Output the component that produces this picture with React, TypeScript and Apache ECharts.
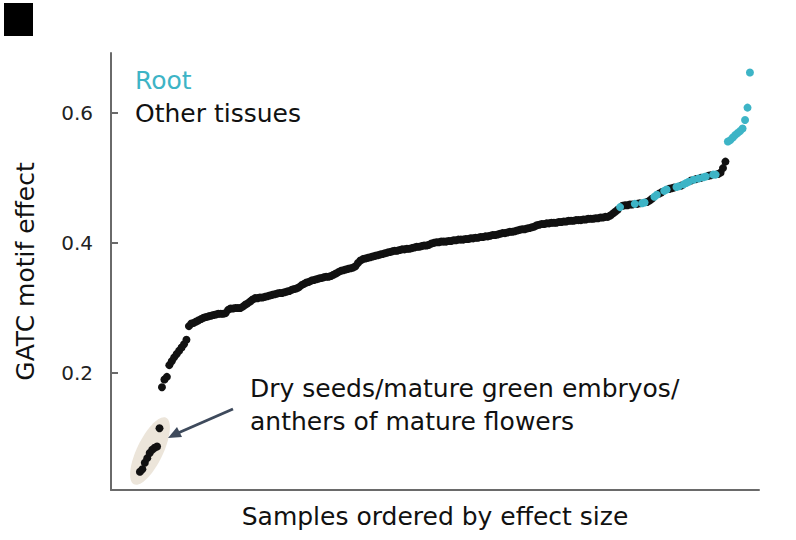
import React, { useEffect, useRef } from "react";
import * as echarts from "echarts";

// Effect sizes of all samples, sorted ascending (rank = index)
const effectSizes: number[] = [
  0.048, 0.052, 0.062, 0.069, 0.077, 0.082, 0.085, 0.087, 0.115, 0.178,
  0.190, 0.194, 0.212, 0.218, 0.224, 0.229, 0.234, 0.239, 0.244, 0.251,
  0.272, 0.276, 0.277, 0.279, 0.281, 0.283, 0.285, 0.286, 0.287, 0.288,
  0.289, 0.290, 0.291, 0.291, 0.291, 0.292, 0.297, 0.299, 0.299, 0.300,
  0.300, 0.300, 0.302, 0.305, 0.307, 0.310, 0.313, 0.315, 0.315, 0.316,
  0.316, 0.317, 0.318, 0.319, 0.320, 0.321, 0.322, 0.323, 0.323, 0.324,
  0.325, 0.326, 0.328, 0.329, 0.330, 0.332, 0.335, 0.337, 0.339, 0.340,
  0.342, 0.343, 0.344, 0.345, 0.346, 0.347, 0.348, 0.348, 0.349, 0.351,
  0.353, 0.355, 0.357, 0.358, 0.359, 0.360, 0.361, 0.362, 0.364, 0.369,
  0.373, 0.375, 0.376, 0.377, 0.378, 0.379, 0.380, 0.381, 0.382, 0.383,
  0.384, 0.385, 0.386, 0.387, 0.388, 0.388, 0.389, 0.390, 0.390, 0.391,
  0.391, 0.392, 0.393, 0.394, 0.394, 0.395, 0.396, 0.396, 0.397, 0.399,
  0.400, 0.401, 0.401, 0.402, 0.402, 0.402, 0.403, 0.403, 0.404, 0.404,
  0.405, 0.405, 0.405, 0.406, 0.406, 0.407, 0.407, 0.408, 0.408, 0.409,
  0.409, 0.410, 0.410, 0.411, 0.412, 0.412, 0.413, 0.414, 0.415, 0.415,
  0.416, 0.417, 0.417, 0.418, 0.419, 0.420, 0.421, 0.421, 0.422, 0.423,
  0.424, 0.425, 0.427, 0.428, 0.429, 0.429, 0.430, 0.430, 0.431, 0.431,
  0.431, 0.432, 0.432, 0.433, 0.433, 0.434, 0.434, 0.434, 0.435, 0.435,
  0.435, 0.436, 0.436, 0.437, 0.437, 0.437, 0.438, 0.438, 0.439, 0.439,
  0.440, 0.440, 0.442, 0.445, 0.448, 0.451, 0.455, 0.457, 0.458, 0.458,
  0.459, 0.459, 0.460, 0.460, 0.461, 0.461, 0.462, 0.463, 0.465, 0.468,
  0.471, 0.474, 0.476, 0.478, 0.480, 0.482, 0.483, 0.484, 0.485, 0.486,
  0.487, 0.488, 0.490, 0.492, 0.494, 0.496, 0.497, 0.498, 0.499, 0.500,
  0.501, 0.502, 0.503, 0.504, 0.505, 0.505, 0.506, 0.508, 0.515, 0.525,
  0.556, 0.558, 0.562, 0.566, 0.569, 0.572, 0.576, 0.589, 0.608, 0.662,
];

// Ranks of samples that come from roots
const rootRanks: number[] = [
  196, 202, 205, 206, 210, 211, 214, 215, 219, 220, 222, 223, 224, 226, 228,
  230, 231, 234, 235, 240, 241, 242, 243, 244, 245, 246, 247, 248, 249,
];

const yTicks: number[] = [0.2, 0.4, 0.6];
const seriesNames: string[] = ["Root", "Other tissues"];
const annotationLines: string[] = [
  "Dry seeds/mature green embryos/",
  "anthers of mature flowers",
];

const ROOT_COLOR = "#3db4c6";
const OTHER_COLOR = "#111111";
const AXIS_COLOR = "#6a6a6a";
const FONT = "'DejaVu Sans', sans-serif";

export default function App() {
  const ref = useRef<HTMLDivElement>(null);

  useEffect(() => {
    if (!ref.current) return;
    const chart = echarts.init(ref.current, undefined, { renderer: "svg" });
    const rootSet = new Set(rootRanks);
    const rootData: number[][] = [];
    const otherData: number[][] = [];
    effectSizes.forEach((v, i) => {
      if (rootSet.has(i)) rootData.push([i, v]);
      else otherData.push([i, v]);
    });

    chart.setOption({
      animation: false,
      backgroundColor: "#ffffff",
      textStyle: { fontFamily: FONT },
      grid: {
        left: 111,
        right: 37,
        top: 53,
        bottom: 50,
        containLabel: false,
        outerBoundsMode: "none",
      },
      xAxis: {
        type: "value",
        min: -11.8,
        max: 252.7,
        axisLine: {
          show: true,
          onZero: false,
          lineStyle: { color: AXIS_COLOR, width: 2 },
        },
        axisTick: { show: false },
        axisLabel: { show: false },
        splitLine: { show: false },
        name: "Samples ordered by effect size",
        nameLocation: "middle",
        nameGap: 14,
        nameTextStyle: { fontSize: 25, color: OTHER_COLOR, fontFamily: FONT },
      },
      yAxis: {
        type: "value",
        min: 0.02,
        max: 0.692,
        axisLine: {
          show: true,
          onZero: false,
          lineStyle: { color: AXIS_COLOR, width: 2 },
        },
        axisTick: {
          show: true,
          inside: true,
          length: 7,
          customValues: yTicks,
          lineStyle: { color: AXIS_COLOR, width: 2 },
        },
        axisLabel: {
          customValues: yTicks,
          formatter: (v: number) => v.toFixed(1),
          fontSize: 20,
          color: "#222",
          margin: 18,
          fontFamily: FONT,
        },
        splitLine: { show: false },
        name: "GATC motif effect",
        nameLocation: "middle",
        nameGap: 73,
        nameTextStyle: { fontSize: 25, color: OTHER_COLOR, fontFamily: FONT },
      },
      graphic: [
        {
          type: "rect",
          shape: { x: 4, y: 3, width: 29, height: 33 },
          style: { fill: "#000" },
        },
        {
          type: "ellipse",
          x: 150,
          y: 451,
          rotation: -0.45,
          shape: { cx: 0, cy: 0, rx: 13, ry: 37 },
          style: { fill: "#ece5da" },
          z: 0,
        },
        {
          type: "line",
          shape: { x1: 233, y1: 409, x2: 178, y2: 433 },
          style: { stroke: "#3e4a5c", lineWidth: 3 },
          z: 3,
        },
        {
          type: "polygon",
          shape: { points: [[168, 438], [177, 427], [182, 437]] },
          style: { fill: "#3e4a5c" },
          z: 3,
        },
        {
          type: "text",
          x: 250,
          y: 372,
          style: {
            text: annotationLines.join("\n"),
            fontSize: 25,
            lineHeight: 33,
            fill: OTHER_COLOR,
            fontFamily: FONT,
            verticalAlign: "top",
          },
        },
        {
          type: "text",
          x: 135,
          y: 80,
          style: {
            text: seriesNames[0],
            fontSize: 25,
            fill: ROOT_COLOR,
            fontFamily: FONT,
            verticalAlign: "middle",
          },
        },
        {
          type: "text",
          x: 135,
          y: 113,
          style: {
            text: seriesNames[1],
            fontSize: 25,
            fill: OTHER_COLOR,
            fontFamily: FONT,
            verticalAlign: "middle",
          },
        },
      ],
      series: [
        {
          name: seriesNames[1],
          type: "scatter",
          data: otherData,
          symbolSize: 8,
          itemStyle: { color: OTHER_COLOR, opacity: 1 },
          z: 2,
        },
        {
          name: seriesNames[0],
          type: "scatter",
          data: rootData,
          symbolSize: 8,
          itemStyle: { color: ROOT_COLOR, opacity: 1 },
          z: 3,
        },
      ],
    });
    return () => chart.dispose();
  }, []);

  return (
    <div
      ref={ref}
      style={{ position: "fixed", left: 0, top: 0, width: 796, height: 540 }}
    />
  );
}
